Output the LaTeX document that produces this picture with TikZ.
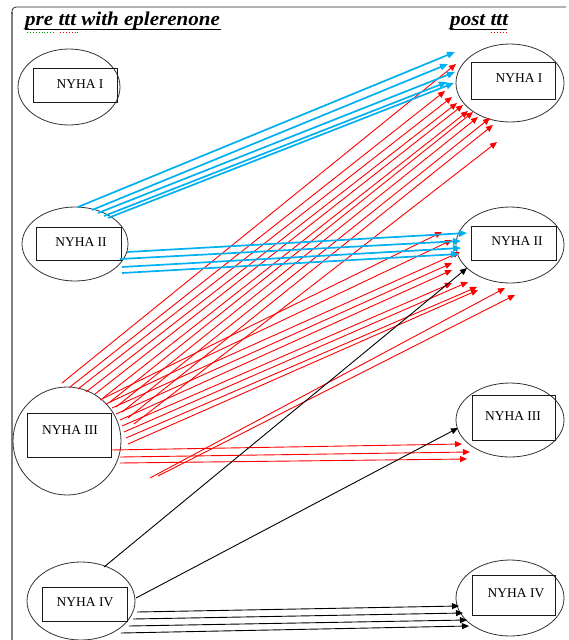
\documentclass[tikz,border=0pt]{standalone}
\usepackage{fontspec}
\setmainfont{Liberation Serif}
\usetikzlibrary{arrows.meta,shapes.geometric}
\definecolor{skyblue}{RGB}{0,176,240}
\definecolor{framegray}{RGB}{128,128,128}
\definecolor{spellgreen}{RGB}{0,150,0}
\tikzset{
  oval/.style={ellipse,draw=black!80,line width=0.8pt,inner sep=0pt},
  labelbox/.style={draw=black!90,line width=0.85pt,inner sep=0pt},
  labeltext/.style={font=\fontsize{13.5}{13.5}\selectfont,inner sep=0pt},
  bluearrow/.style={draw=skyblue,line width=1.7pt,-{Triangle[length=8pt,width=6.5pt]}},
  redarrow/.style={draw=red,line width=0.9pt,-{Triangle[length=7pt,width=6pt]}},
  blackarrow/.style={draw=black,line width=0.9pt,-{Triangle[length=7pt,width=6pt]}},
  heading/.style={font=\fontsize{19.5}{19.5}\selectfont\bfseries\itshape,inner sep=0pt,anchor=base west,xscale=1.08},
}
\begin{document}
\begin{tikzpicture}[x=1pt,y=-1pt]
\useasboundingbox (0,0) rectangle (569,640);
\fill[white] (0,0) rectangle (569,640);

% frame
\draw[framegray,line width=1.6pt] (12,640) -- (12,12);
\draw[black!85,line width=0.8pt,rounded corners=4pt] (12,14) -- (12,7) -- (566,7);

% headings
\node[heading] (pre) at (25,25) {pre ttt with eplerenone};
\node[heading] (post) at (450,25) {post ttt};
\draw[black,line width=1.6pt] (25,29.5) -- (221,29.5);
\draw[black,line width=1.6pt] (450,29.5) -- (507,29.5);
\draw[spellgreen,line width=0.9pt,dotted] (27,32.5) -- (55,32.5);
\draw[red,line width=0.9pt,dotted] (60,32.5) -- (80,32.5);
\draw[red,line width=0.9pt,dotted] (491,32.5) -- (508,32.5);

% left column (before treatment)
\node[oval,minimum width=102pt,minimum height=76pt] (L1) at (69,87) {};
\node[labelbox,minimum width=84pt,minimum height=34pt] (L1b) at (75,85) {};
\node[labeltext] (L1t) at (80,84) {NYHA I};

\node[oval,minimum width=106pt,minimum height=74pt] (L2) at (75,244) {};
\node[labelbox,minimum width=85pt,minimum height=33pt] (L2b) at (78.5,244) {};
\node[labeltext] (L2t) at (81,242) {NYHA II};

\node[oval,minimum width=108pt,minimum height=108pt] (L3) at (67,441) {};
\node[labelbox,minimum width=84pt,minimum height=44pt] (L3b) at (69,435) {};
\node[labeltext] (L3t) at (70,430) {NYHA III};

\node[oval,minimum width=108pt,minimum height=78pt] (L4) at (81,601) {};
\node[labelbox,minimum width=85pt,minimum height=34pt] (L4b) at (84.5,604) {};
\node[labeltext] (L4t) at (85,602) {NYHA IV};

% right column (after treatment)
\node[oval,minimum width=108pt,minimum height=78pt] (R1) at (510,83) {};
\node[labelbox,minimum width=84pt,minimum height=37pt] (R1b) at (513,81) {};
\node[labeltext] (R1t) at (519,78) {NYHA I};

\node[oval,minimum width=108pt,minimum height=76pt] (R2) at (510,245) {};
\node[labelbox,minimum width=85pt,minimum height=34pt] (R2b) at (513.5,243) {};
\node[labeltext] (R2t) at (517,241) {NYHA II};

\node[oval,minimum width=108pt,minimum height=74pt] (R3) at (510,420) {};
\node[labelbox,minimum width=83pt,minimum height=45pt] (R3b) at (513.5,418) {};
\node[labeltext] (R3t) at (513,416) {NYHA III};

\node[oval,minimum width=108pt,minimum height=76pt] (R4) at (510,598) {};
\node[labelbox,minimum width=83pt,minimum height=40pt] (R4b) at (513.5,595) {};
\node[labeltext] (R4t) at (516,593) {NYHA IV};

% NYHA III -> NYHA I
\foreach \sx/\sy/\ex/\ey [count=\k] in {
  62/383/456/64, 70/387/445/91, 78/389/452/97, 86/392/457/103,
  95/394/463/105, 103/398/468/111, 110/402/473/112, 116/407/478/117,
  122/412/490/118, 128/418/493/125, 134/424/497/142}{
  \coordinate (a\k) at (\sx,\sy);
  \coordinate (b\k) at (\ex,\ey);
  \draw[redarrow] (a\k) -- (b\k);
}

% NYHA III -> NYHA II
\foreach \sx/\sy/\ex/\ey [count=\k] in {
  100/400/442/232, 106/404/452/240, 112/408/460/252, 116/414/452/263,
  120/420/452/270, 122/426/452/283, 124/432/468/282, 126/438/477/287,
  128/444/478/290, 150/478/505/288, 158/476/515/295}{
  \coordinate (c\k) at (\sx,\sy);
  \coordinate (d\k) at (\ex,\ey);
  \draw[redarrow] (c\k) -- (d\k);
}

% NYHA III -> NYHA III
\foreach \sx/\sy/\ex/\ey [count=\k] in {
  111/450/462/444, 120/457/470/452, 120/463/467/459}{
  \coordinate (e\k) at (\sx,\sy);
  \coordinate (f\k) at (\ex,\ey);
  \draw[redarrow] (e\k) -- (f\k);
}

% NYHA II -> NYHA I
\foreach \sx/\sy/\ex/\ey [count=\k] in {
  78/207/455/52, 92/210/448/64, 98/213/455/72, 104/216/447/82, 108/218/454/83}{
  \coordinate (g\k) at (\sx,\sy);
  \coordinate (h\k) at (\ex,\ey);
  \draw[bluearrow] (g\k) -- (h\k);
}

% NYHA II -> NYHA II
\foreach \sx/\sy/\ex/\ey [count=\k] in {
  127/252/467/233, 120/259/461/241, 122/267/461/248, 122/273/459/254}{
  \coordinate (i\k) at (\sx,\sy);
  \coordinate (j\k) at (\ex,\ey);
  \draw[bluearrow] (i\k) -- (j\k);
}

% NYHA IV -> NYHA II, III, IV
\coordinate (k1) at (104,567);
\coordinate (m1) at (467,268);
\draw[blackarrow] (k1) -- (m1);
\coordinate (k2) at (136,598);
\coordinate (m2) at (458,428);
\draw[blackarrow] (k2) -- (m2);
\foreach \sx/\sy/\ex/\ey [count=\k] in {
  137/612/459/606, 133/619/463/613, 129/626/467/620, 121/633/469/626}{
  \coordinate (n\k) at (\sx,\sy);
  \coordinate (p\k) at (\ex,\ey);
  \draw[blackarrow] (n\k) -- (p\k);
}
\end{tikzpicture}
\end{document}
